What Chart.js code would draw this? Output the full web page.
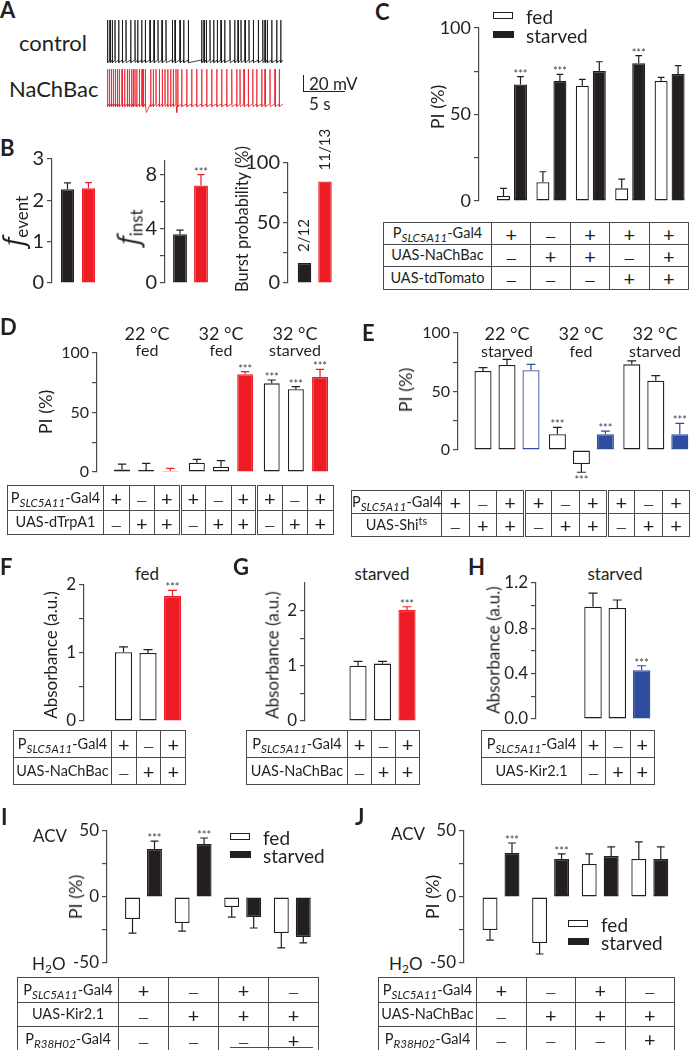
<!DOCTYPE html>
<html>
<head>
<meta charset="utf-8">
<script src="https://cdn.jsdelivr.net/npm/chart.js@4.4.1/dist/chart.umd.min.js"></script>
<style>
  body { margin:0; width:692px; height:1050px; position:relative; overflow:hidden; background:#fff;
         font-family: Lato, 'Open Sans', sans-serif; color:#231f20; }
  canvas, .t, table.gt, .ln { position:absolute; }
  .t { line-height:1; white-space:nowrap; transform:translateY(-50%); }
  .t.c { transform:translate(-50%,-50%); }
  .t.v { transform:translate(-50%,-50%) rotate(-90deg); }
  .pl { font-weight:bold; }
  .ff { font-family:'Open Sans', sans-serif; font-style:italic; font-size:27px; }
  .fs { font-size:17px; vertical-align:-0.3em; line-height:0; }
  table.gt { border-collapse:collapse; table-layout:fixed; }
  table.gt td { border:1px solid #4a4a4a; padding:0; text-align:center; font-size:20px; line-height:1; overflow:visible; }
  table.gt td.lab { font-size:14.5px; white-space:nowrap; }
  table.gt td.sep { border-right:3px double #4a4a4a; }
  table.gt td.nb { border-bottom:none; }
  .lab sub { font-size:0.8em; font-style:italic; vertical-align:-0.35em; line-height:0; }
  .lab sup { font-size:0.75em; vertical-align:0.45em; line-height:0; }
  .mn { font-size:14px; }
</style>
</head>
<body>
<script>
// ---------- data ----------
// A: spike times (s)
const controlSpikes = [0.08, 0.36, 0.63, 0.95, 1.39, 1.83, 2.26, 2.82, 3.33, 3.65, 4.13, 4.56, 5.12, 5.6,
  6.07, 6.55, 7.02, 7.78, 8.1, 8.69, 9.13, 9.68, 11.27, 11.55, 11.82, 12.26, 12.7, 13.13, 13.57, 14.01,
  14.64, 15.2, 15.6, 15.95, 16.43, 16.9, 17.42, 18.01, 18.54, 18.81, 19.08, 19.61, 20.2, 20.68];
const nachbacSpikes = [0.04, 0.27, 0.51, 0.75, 0.99, 1.23, 1.46, 1.79, 2.1, 2.42, 2.65, 2.93, 3.13, 3.33,
  3.54, 3.85, 4.17, 4.32, 4.56, 5.2, 5.51, 5.83, 6.23, 6.58, 6.9, 7.23, 7.58, 7.89, 8.21, 8.42, 8.89,
  9.49, 10.08, 10.68, 11.27, 11.87, 12.46, 13.06, 13.65, 14.25, 14.85, 15.44, 15.83, 16.31, 16.82,
  17.35, 17.82, 18.42, 18.81, 19.4, 20.0, 20.51];
const nachbacDips = [4.7, 8.3];

// B
const fEvent = [2.27, 2.29], fEventSem = [0.15, 0.14];
const fInst = [3.6, 7.2], fInstSem = [0.3, 0.8], fInstSig = [0, 1];
const burstProb = [16.7, 84.6], burstCounts = ['2/12', '11/13'];

// C
const cFed = [2.9, 10.8, 66.6, 7.3, 69.4], cFedSem = [4.4, 6.1, 3.7, 5.4, 2.1];
const cStarved = [67.4, 69.4, 75.1, 79.6, 73.4], cStarvedSem = [4.5, 3.8, 5.4, 4.4, 4.8];
const cStarvedSig = [1, 1, 0, 1, 0];
const cRows = ['P<sub>SLC5A11</sub>-Gal4', 'UAS-NaChBac', 'UAS-tdTomato'];
const cCells = [['+', '-', '+', '+', '+'], ['-', '+', '+', '-', '+'], ['-', '-', '-', '+', '+']];

// D
const dConds = [['22 °C', 'fed'], ['32 °C', 'fed'], ['32 °C', 'starved']];
const dPI = [2.2, 1.7, 0.8, 7.8, 4.5, 82.1, 74.5, 69.5, 79.8];
const dSem = [4.5, 5.6, 2.3, 2.8, 5.0, 2.2, 2.8, 2.2, 6.5];
const dSig = [0, 0, 0, 0, 0, 1, 1, 1, 1];
const dRows = ['P<sub>SLC5A11</sub>-Gal4', 'UAS-dTrpA1'];
const dCells = [['+', '-', '+', '+', '-', '+', '+', '-', '+'], ['-', '+', '+', '-', '+', '+', '-', '+', '+']];

// E
const eConds = [['22 °C', 'starved'], ['32 °C', 'fed'], ['32 °C', 'starved']];
const ePI = [67.5, 72.6, 68.1, 13.4, -12.0, 13.4, 73.2, 59.2, 13.4];
const eSem = [2.9, 4.9, 5.1, 6.0, 7.0, 2.8, 2.9, 4.3, 9.4];
const eSig = [0, 0, 0, 1, 1, 1, 0, 0, 1];
const eRows = ['P<sub>SLC5A11</sub>-Gal4', 'UAS-Shi<sup>ts</sup>'];
const eCells = dCells;

// F, G, H
const fAbs = [1.01, 1.0, 1.84], fSem = [0.08, 0.05, 0.08], fSig = [0, 0, 1];
const gAbs = [1.0, 1.04, 2.01], gSem = [0.08, 0.04, 0.06], gSig = [0, 0, 1];
const hAbs = [0.99, 0.98, 0.43], hSem = [0.12, 0.07, 0.04], hSig = [0, 0, 1];
const fRows = ['P<sub>SLC5A11</sub>-Gal4', 'UAS-NaChBac'];
const hRows = ['P<sub>SLC5A11</sub>-Gal4', 'UAS-Kir2.1'];
const fghCells = [['+', '-', '+'], ['-', '+', '+']];

// I, J
const iFed = [-16.7, -19.7, -7.6, -27.3], iFedSem = [10.6, 6.1, 7.6, 11.3];
const iStarved = [36.4, 40.2, -15.2, -30.3], iStarvedSem = [6.0, 4.5, 8.3, 4.5];
const iSig = [1, 1, 0, 0];
const jFed = [-25.0, -34.8, 25.0, 28.8], jFedSem = [7.6, 8.4, 7.6, 12.9];
const jStarved = [33.3, 28.8, 31.0, 28.8], jStarvedSem = [7.6, 3.8, 6.9, 9.1];
const jSig = [1, 1, 0, 0];
const iRows = ['P<sub>SLC5A11</sub>-Gal4', 'UAS-Kir2.1', 'P<sub>R38H02</sub>-Gal4'];
const jRows = ['P<sub>SLC5A11</sub>-Gal4', 'UAS-NaChBac', 'P<sub>R38H02</sub>-Gal4'];
const ijCells = [['+', '-', '+', '-'], ['-', '+', '+', '+'], ['-', '-', '-', '+']];

// ---------- styles ----------
const FONT = "Lato, 'Open Sans', sans-serif";
const INK = '#231f20', AXIS = '#4a4a4a', RED = '#ed1c24', BLUE = '#2f4d9f';
const STY = { o: ['#ffffff', INK], k: [INK, INK], r: [RED, RED], b: [BLUE, BLUE], bo: ['#ffffff', BLUE] };
Chart.defaults.font.family = FONT;
Chart.defaults.color = INK;

// error bars, asterisks and count tags
const errorBars = {
  id: 'errorBars',
  afterDatasetsDraw(chart) {
    const ctx = chart.ctx, y = chart.scales.y;
    chart.data.datasets.forEach((ds, di) => {
      chart.getDatasetMeta(di).data.forEach((bar, i) => {
        const v = ds.data[i].y;
        const sgn = v < 0 ? -1 : 1;
        let yEnd = bar.y;
        ctx.save();
        if (ds.sem) {
          yEnd = y.getPixelForValue(v + sgn * ds.sem[i]);
          const cap = bar.width * 0.26;
          ctx.strokeStyle = bar.options.borderColor;
          ctx.lineWidth = 1.2;
          ctx.beginPath();
          ctx.moveTo(bar.x, bar.y); ctx.lineTo(bar.x, yEnd);
          ctx.moveTo(bar.x - cap, yEnd); ctx.lineTo(bar.x + cap, yEnd);
          ctx.stroke();
        }
        if (ds.sig && ds.sig[i]) {
          ctx.fillStyle = '#444';
          ctx.font = '11px ' + FONT;
          ctx.textAlign = 'center';
          ctx.textBaseline = 'alphabetic';
          ctx.fillText('***', bar.x, sgn > 0 ? yEnd + 1 : yEnd + 12);
        }
        if (ds.tags) {
          ctx.translate(bar.x, bar.y - 11);
          ctx.rotate(-Math.PI / 2);
          ctx.fillStyle = INK;
          ctx.font = '15px ' + FONT;
          ctx.textAlign = 'left';
          ctx.textBaseline = 'middle';
          ctx.fillText(ds.tags[i], 0, 0);
        }
        ctx.restore();
      });
    });
  }
};

function barSet(vals, xs, styles, extra) {
  return Object.assign({
    data: vals.map((v, i) => ({ x: xs[i], y: v })),
    backgroundColor: styles.map(s => STY[s][0]),
    borderColor: styles.map(s => STY[s][1]),
    borderWidth: 1.3,
    borderSkipped: false,
    categoryPercentage: 1,
    clip: false
  }, extra);
}

function barChart(o) {
  const padT = o.padT || 14, padB = o.padB || 14, padR = 4;
  const left = Math.round(o.axisX - o.axisW), top = Math.round(o.top - padT);
  const w = Math.round(o.right + padR - left), h = Math.round(o.bottom + padB - top);
  const cv = document.createElement('canvas');
  cv.width = w; cv.height = h;
  cv.style.left = left + 'px'; cv.style.top = top + 'px';
  document.body.appendChild(cv);
  return new Chart(cv, {
    type: 'bar',
    data: { datasets: o.datasets },
    options: {
      responsive: false, animation: false,
      layout: { padding: { top: o.top - top, bottom: padB, right: padR, left: 0 } },
      plugins: { legend: { display: false }, tooltip: { enabled: false } },
      scales: {
        x: { type: 'linear', display: false, offset: false,
             min: (o.axisX - o.first) / o.step, max: (o.right - o.first) / o.step },
        y: { min: o.min, max: o.max,
             afterFit: s => { s.width = o.axisX - left; },
             afterBuildTicks: s => { s.ticks = o.ticks.map(v => ({ value: v })); },
             ticks: { autoSkip: false, padding: 3, color: INK, font: { size: o.font },
                      callback: v => o.labels.includes(v) ? (o.fmt ? o.fmt(v) : String(v)) : '' },
             grid: { drawOnChartArea: false, drawTicks: true, tickLength: 5, color: AXIS, lineWidth: 1.2 },
             border: { display: true, color: AXIS, width: 1.2 } }
      }
    },
    plugins: [errorBars]
  });
}

function traceChart(spikes, dips, box, yr, base, peak, color) {
  const pts = [{ x: 0, y: base }];
  spikes.forEach(t => pts.push({ x: t - 0.03, y: base }, { x: t, y: peak }, { x: t + 0.03, y: base - 3 }));
  dips.forEach(t => pts.push({ x: t, y: base - 10 }));
  pts.sort((a, b) => a.x - b.x);
  pts.push({ x: 20.95, y: base });
  const cv = document.createElement('canvas');
  cv.width = box[2]; cv.height = box[3];
  cv.style.left = box[0] + 'px'; cv.style.top = box[1] + 'px';
  document.body.appendChild(cv);
  new Chart(cv, {
    type: 'line',
    data: { datasets: [{ data: pts, borderColor: color, borderWidth: 0.8, pointRadius: 0, tension: 0 }] },
    options: {
      responsive: false, animation: false,
      layout: { padding: 0 },
      plugins: { legend: { display: false }, tooltip: { enabled: false } },
      scales: { x: { type: 'linear', display: false, min: 0, max: 20.95 },
                y: { display: false, min: yr[0], max: yr[1] } }
    }
  });
}

function txt(html, x, y, size, cls) {
  const d = document.createElement('div');
  d.className = 't ' + (cls || '');
  d.style.left = x + 'px'; d.style.top = y + 'px'; d.style.fontSize = size + 'px';
  d.innerHTML = html;
  document.body.appendChild(d);
}
function line(x, y, w, h, color) {
  const d = document.createElement('div');
  d.className = 'ln';
  d.style.cssText = `left:${x}px;top:${y}px;width:${w}px;height:${h}px;background:${color || INK}`;
  document.body.appendChild(d);
}
function legend(x, y, gap) {
  const bx = document.createElement('div');
  bx.className = 'ln';
  bx.style.cssText = `left:${x}px;top:${y - 4}px;width:18px;height:5px;border:1.3px solid ${INK};background:#fff`;
  document.body.appendChild(bx);
  line(x, y + gap - 4, 21, 7);
  txt('fed', x + 33, y, 19);
  txt('starved', x + 33, y + gap, 19);
}
function table(x, y, labelW, colW, rowH, rows, cells, group, noBottom) {
  const t = document.createElement('table');
  t.className = 'gt';
  const n = cells[0].length;
  t.style.left = x + 'px'; t.style.top = y + 'px'; t.style.width = (labelW + n * colW) + 'px';
  let html = `<colgroup><col style="width:${labelW}px">` + cells[0].map(() => `<col style="width:${colW}px">`).join('') + '</colgroup>';
  rows.forEach((lab, r) => {
    const nb = noBottom && r === rows.length - 1 ? ' nb' : '';
    html += `<tr><td class="lab${nb}" style="height:${rowH[r]}px">${lab}</td>` + cells[r].map((c, j) => {
      const sep = group && (j + 1) % group === 0 && j < n - 1 ? ' sep' : '';
      return `<td class="${sep}${nb}">${c === '+' ? '+' : '<span class="mn">\u2014</span>'}</td>`;
    }).join('') + '</tr>';
  });
  t.innerHTML = html;
  document.body.appendChild(t);
}
const H2O = 'H<sub style="font-size:0.7em;vertical-align:-0.3em;line-height:0">2</sub>O';

// ---------- A ----------
txt('A', 0, 10, 22, 'pl');
txt('control', 19, 43, 22);
txt('NaChBac', 9, 89, 22);
traceChart(controlSpikes, [], [107, 15, 176, 50], [-65.8, -7], -60, -13, '#111');
traceChart(nachbacSpikes, nachbacDips, [107, 64, 176, 52], [-74.1, -12.9], -60, -19, '#e8202a');
line(303, 75, 1.3, 17);
line(303, 91, 42, 1.3);
txt('20 mV', 309, 83, 17);
txt('5 s', 309, 103, 17);

// ---------- B ----------
txt('B', 0, 148, 22, 'pl');
barChart({ axisX: 52, axisW: 36, top: 158, bottom: 284, right: 100, min: 0, max: 3,
  ticks: [0, 1, 2, 3], labels: [0, 1, 2, 3], font: 20, first: 67.5, step: 21,
  datasets: [barSet(fEvent, [0, 1], ['k', 'r'], { sem: fEventSem, barPercentage: 0.63 })] });
txt('<span class="ff">f</span><span class="fs">event</span>', 12, 221, 17, 'v');
barChart({ axisX: 165, axisW: 36, top: 160, bottom: 284, right: 214, min: 0, max: 9,
  ticks: [0, 2, 4, 6, 8], labels: [0, 4, 8], font: 20, first: 180, step: 21,
  datasets: [barSet(fInst, [0, 1], ['k', 'r'], { sem: fInstSem, sig: fInstSig, barPercentage: 0.66 })] });
txt('<span class="ff">f</span><span class="fs">inst</span>', 127, 227, 17, 'v');
barChart({ axisX: 288, axisW: 42, top: 163, bottom: 284, right: 338, min: 0, max: 100, padT: 40,
  ticks: [0, 25, 50, 75, 100], labels: [0, 50, 100], font: 20, first: 304.5, step: 20.5,
  datasets: [barSet(burstProb, [0, 1], ['k', 'r'], { tags: burstCounts, barPercentage: 0.66 })] });
txt('Burst probability (%)', 242, 219, 16.5, 'v');

// ---------- C ----------
txt('C', 375, 12, 22, 'pl');
barChart({ axisX: 479, axisW: 40, top: 28, bottom: 201, right: 690, min: 0, max: 100,
  ticks: [0, 25, 50, 75, 100], labels: [0, 50, 100], font: 18, first: 512, step: 39.4,
  datasets: [
    barSet(cFed, [0, 1, 2, 3, 4], cFed.map(() => 'o'), { sem: cFedSem, categoryPercentage: 0.863, barPercentage: 0.765 }),
    barSet(cStarved, [0, 1, 2, 3, 4], cStarved.map(() => 'k'), { sem: cStarvedSem, sig: cStarvedSig, categoryPercentage: 0.863, barPercentage: 0.765 })
  ] });
txt('PI (%)', 437, 107, 18, 'v');
legend(493, 16, 19);
table(383, 222, 108, 39.4, [21, 21, 22], cRows, cCells, 0);

// ---------- D ----------
txt('D', 0, 327, 22, 'pl');
const dx = dPI.map((v, i) => i + 0.1 * Math.floor(i / 3));
barChart({ axisX: 97, axisW: 40, top: 353, bottom: 472, right: 335, min: 0, max: 100,
  ticks: [0, 25, 50, 75, 100], labels: [0, 50, 100], font: 16, first: 122, step: 24.15,
  datasets: [barSet(dPI, dx, ['o', 'o', 'r', 'o', 'o', 'r', 'o', 'o', 'r'], { sem: dSem, sig: dSig, barPercentage: 0.66 })] });
dConds.forEach((c, g) => { txt(c[0], 147 + 74 * g, 333, 18, 'c'); txt(c[1], 147 + 74 * g, 350, 16, 'c'); });
txt('PI (%)', 45, 412, 18, 'v');
table(7, 485, 96, 25.5, [24, 23], dRows, dCells, 3);

// ---------- E ----------
txt('E', 362, 333, 22, 'pl');
barChart({ axisX: 458, axisW: 44, top: 333, bottom: 450, right: 690, min: 0, max: 100, padB: 36,
  ticks: [0, 25, 50, 75, 100], labels: [0, 50, 100], font: 16, first: 483, step: 24.0,
  datasets: [barSet(ePI, dx, ['o', 'o', 'bo', 'o', 'o', 'b', 'o', 'o', 'b'], { sem: eSem, sig: eSig, barPercentage: 0.71 })] });
eConds.forEach((c, g) => { txt(c[0], 507 + 74 * g, 333, 18, 'c'); txt(c[1], 507 + 74 * g, 351, 16, 'c'); });
txt('PI (%)', 405, 390, 18, 'v');
table(351, 490, 90, 27.6, [22, 22], eRows, eCells, 3);

// ---------- F, G, H ----------
txt('F', 0, 567, 22, 'pl');
txt('fed', 147, 573, 17, 'c');
barChart({ axisX: 84, axisW: 40, top: 585, bottom: 721, right: 190, min: 0, max: 2,
  ticks: [0, 0.5, 1, 1.5, 2], labels: [0, 1, 2], font: 17, first: 123.5, step: 24.5,
  datasets: [barSet(fAbs, [0, 1, 2], ['o', 'o', 'r'], { sem: fSem, sig: fSig, barPercentage: 0.7 })] });
txt('Absorbance (a.u.)', 50, 655, 17, 'v');
table(13, 730, 98, 24.7, [26, 26], fRows, fghCells, 0);

txt('G', 233, 567, 22, 'pl');
txt('starved', 382, 573, 17, 'c');
barChart({ axisX: 305, axisW: 40, top: 583, bottom: 721, right: 425, min: 0, max: 2.5,
  ticks: [0, 0.5, 1, 1.5, 2], labels: [0, 1, 2], font: 17, first: 358, step: 24.5,
  datasets: [barSet(gAbs, [0, 1, 2], ['o', 'o', 'r'], { sem: gSem, sig: gSig, barPercentage: 0.7 })] });
txt('Absorbance (a.u.)', 272, 655, 17, 'v');
table(246, 730, 101, 24, [26, 26], fRows, fghCells, 0);

txt('H', 468, 567, 22, 'pl');
txt('starved', 615, 573, 17, 'c');
barChart({ axisX: 536, axisW: 44, top: 583, bottom: 719, right: 660, min: 0, max: 1.2,
  ticks: [0, 0.2, 0.4, 0.6, 0.8, 1.0, 1.2], labels: [0, 0.4, 0.8, 1.2], font: 17, first: 593, step: 24.3,
  fmt: v => v.toFixed(1),
  datasets: [barSet(hAbs, [0, 1, 2], ['o', 'o', 'b'], { sem: hSem, sig: hSig, barPercentage: 0.72 })] });
txt('Absorbance (a.u.)', 493, 650, 17, 'v');
table(481, 730, 100, 24.3, [26, 26], hRows, fghCells, 0);

// ---------- I, J ----------
const ix = [0, 1, 2, 3];
txt('I', 1, 817, 22, 'pl');
txt('ACV', 33, 835, 17);
txt(H2O, 32, 963, 17);
barChart({ axisX: 107, axisW: 40, top: 831, bottom: 963, right: 320, min: -50, max: 50,
  ticks: [-50, -25, 0, 25, 50], labels: [-50, 0, 50], font: 17, first: 143.5, step: 49.6,
  datasets: [
    barSet(iFed, ix, ix.map(() => 'o'), { sem: iFedSem, categoryPercentage: 0.886, barPercentage: 0.68 }),
    barSet(iStarved, ix, ix.map(() => 'k'), { sem: iStarvedSem, sig: iSig, categoryPercentage: 0.886, barPercentage: 0.68 })
  ] });
txt('PI (%)', 75, 897, 18, 'v');
legend(230, 837, 18);
table(17, 977, 101, 50, [24, 23, 25], iRows, ijCells, 0, true);
line(230, 1047, 83, 1, AXIS);

txt('J', 355, 817, 22, 'pl');
txt('ACV', 391, 833, 17);
txt(H2O, 389, 963, 17);
barChart({ axisX: 464, axisW: 40, top: 831, bottom: 963, right: 680, min: -50, max: 50,
  ticks: [-50, -25, 0, 25, 50], labels: [-50, 0, 50], font: 17, first: 501, step: 49.6,
  datasets: [
    barSet(jFed, ix, ix.map(() => 'o'), { sem: jFedSem, categoryPercentage: 0.886, barPercentage: 0.68 }),
    barSet(jStarved, ix, ix.map(() => 'k'), { sem: jStarvedSem, sig: jSig, categoryPercentage: 0.886, barPercentage: 0.68 })
  ] });
txt('PI (%)', 432, 897, 18, 'v');
legend(568, 924, 18);
table(378, 977, 98, 49.5, [24, 23, 24], jRows, ijCells, 0);
</script>
</body>
</html>
